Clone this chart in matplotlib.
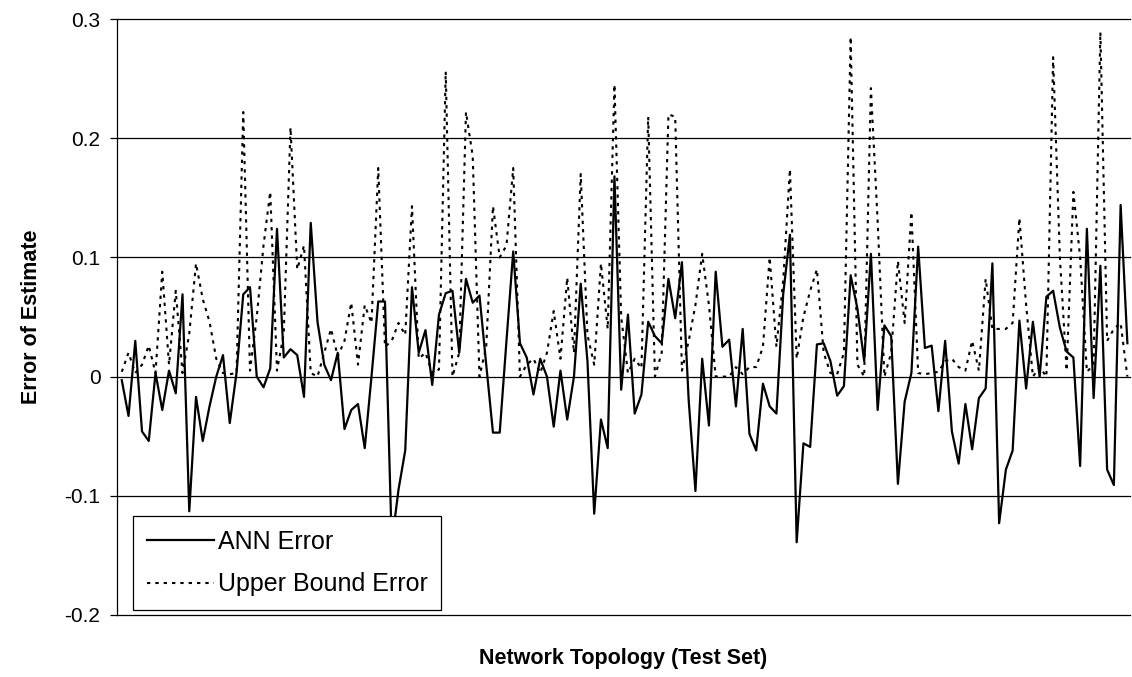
import matplotlib
matplotlib.use("Agg")
import matplotlib.pyplot as plt
import numpy as np

plt.rcParams['font.family'] = ['Liberation Sans', 'DejaVu Sans']

# ANN error per test topology
ann_error = [
    -0.003, -0.033, 0.030, -0.046, -0.054, 0.003, -0.028, 0.005, -0.014, 0.069,
    -0.113, -0.017, -0.054, -0.025, 0.000, 0.018, -0.039, 0.003, 0.069, 0.075,
    0.000, -0.009, 0.007, 0.124, 0.016, 0.023, 0.018, -0.017, 0.129, 0.046,
    0.010, -0.003, 0.020, -0.044, -0.028, -0.023, -0.060, 0.000, 0.063, 0.063,
    -0.140, -0.095, -0.062, 0.075, 0.020, 0.039, -0.007, 0.052, 0.070, 0.072,
    0.020, 0.082, 0.062, 0.068, 0.010, -0.047, -0.047, 0.030, 0.105, 0.028,
    0.016, -0.015, 0.015, 0.000, -0.042, 0.005, -0.036, 0.000, 0.078, 0.013,
    -0.115, -0.036, -0.060, 0.168, -0.011, 0.052, -0.031, -0.015, 0.046, 0.034,
    0.028, 0.082, 0.049, 0.096, -0.020, -0.096, 0.015, -0.041, 0.088, 0.025,
    0.031, -0.025, 0.040, -0.048, -0.062, -0.006, -0.025, -0.031, 0.069, 0.119,
    -0.139, -0.056, -0.059, 0.027, 0.028, 0.013, -0.016, -0.008, 0.085, 0.057,
    0.013, 0.103, -0.028, 0.043, 0.034, -0.090, -0.021, 0.003, 0.109, 0.024,
    0.026, -0.029, 0.030, -0.046, -0.073, -0.023, -0.061, -0.018, -0.010, 0.095,
    -0.123, -0.078, -0.062, 0.047, -0.010, 0.046, 0.000, 0.067, 0.072, 0.041,
    0.021, 0.016, -0.075, 0.124, -0.018, 0.093, -0.078, -0.091, 0.144, 0.028,
]

# Upper bound error per test topology
upper_bound_error = [
    0.004, 0.020, 0.003, 0.010, 0.026, 0.003, 0.088, 0.010, 0.072, 0.003,
    0.036, 0.095, 0.065, 0.046, 0.015, 0.003, 0.002, 0.003, 0.222, 0.005,
    0.050, 0.110, 0.155, 0.005, 0.036, 0.209, 0.090, 0.110, 0.003, 0.000,
    0.020, 0.040, 0.017, 0.030, 0.062, 0.010, 0.060, 0.045, 0.175, 0.025,
    0.030, 0.045, 0.035, 0.143, 0.015, 0.020, 0.003, 0.006, 0.256, 0.000,
    0.020, 0.222, 0.185, 0.000, 0.025, 0.143, 0.100, 0.110, 0.175, 0.000,
    0.010, 0.015, 0.003, 0.020, 0.055, 0.015, 0.083, 0.020, 0.170, 0.035,
    0.010, 0.095, 0.040, 0.245, 0.050, 0.003, 0.015, 0.007, 0.218, 0.000,
    0.020, 0.220, 0.218, 0.005, 0.030, 0.060, 0.103, 0.060, 0.000, 0.000,
    0.000, 0.008, 0.002, 0.008, 0.008, 0.025, 0.100, 0.025, 0.080, 0.174,
    0.015, 0.050, 0.072, 0.090, 0.020, 0.003, 0.002, 0.020, 0.285, 0.010,
    0.000, 0.242, 0.130, 0.000, 0.020, 0.097, 0.045, 0.138, 0.003, 0.002,
    0.003, 0.004, 0.013, 0.015, 0.008, 0.005, 0.030, 0.005, 0.082, 0.040,
    0.040, 0.040, 0.045, 0.133, 0.060, 0.000, 0.008, 0.000, 0.268, 0.100,
    0.005, 0.155, 0.100, 0.004, 0.010, 0.289, 0.030, 0.040, 0.045, 0.000,
]

y_ticks = [-0.2, -0.1, 0, 0.1, 0.2, 0.3]
y_tick_labels = ['-0.2', '-0.1', '0', '0.1', '0.2', '0.3']

x = np.arange(1, len(ann_error) + 1)

fig = plt.figure(figsize=(11.32, 6.77), dpi=100)
ax = fig.add_axes([0.1034, 0.0916, 0.8949, 0.8803])

# horizontal gridlines, incl. the bottom one at -0.2
for t in y_ticks:
    ax.axhline(t, color='black', linewidth=0.9, zorder=1, clip_on=False)

ax.plot(x, ann_error, color='black', linewidth=1.6, label='ANN Error', zorder=3)
ax.plot(x, upper_bound_error, color='black', linewidth=1.5,
        linestyle=(0, (1.6, 2.4)), label='Upper Bound Error', zorder=2)

ax.set_xlim(0.3, 150.4)
ax.set_ylim(-0.2, 0.3)
ax.set_yticks(y_ticks)
ax.set_yticklabels(y_tick_labels, fontsize=15)
ax.set_xticks([])
ax.tick_params(axis='y', direction='out', length=5, width=0.9, pad=7)

for side in ['top', 'right', 'bottom']:
    ax.spines[side].set_visible(False)
ax.spines['left'].set_linewidth(0.9)

ax.set_ylabel('Error of Estimate', fontsize=15.5, fontweight='bold', labelpad=16)
ax.set_xlabel('Network Topology (Test Set)', fontsize=15.5, fontweight='bold', labelpad=24)

leg = ax.legend(loc='lower left', bbox_to_anchor=(0.0155, 0.008), borderaxespad=0,
                fancybox=False, framealpha=1, edgecolor='black', fontsize=18,
                handlelength=2.7, handletextpad=0.15, borderpad=0.55, labelspacing=0.75)
leg.get_frame().set_linewidth(0.9)
leg.set_zorder(5)

fig.savefig('out.png', dpi=100)
